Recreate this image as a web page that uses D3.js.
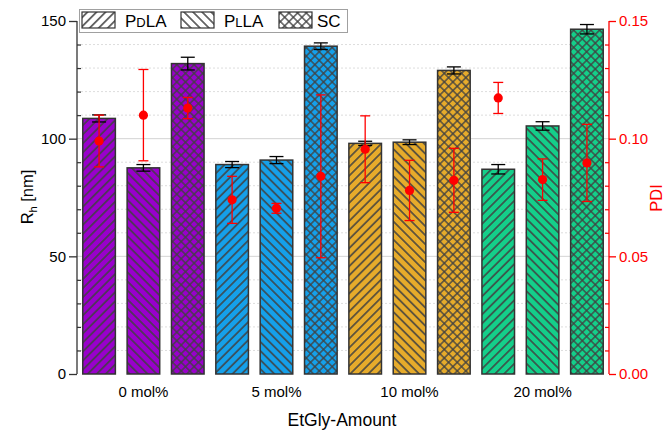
<!DOCTYPE html>
<html>
<head>
<meta charset="utf-8">
<script src="https://cdn.jsdelivr.net/npm/d3@7"></script>
<style>
  html, body { margin: 0; padding: 0; background: #fff; }
  svg { display: block; font-family: "Liberation Sans", Arial, sans-serif; }
</style>
</head>
<body>
<svg id="chart" width="667" height="432"></svg>
<script>
// Hydrodynamic radius (bars, left axis) and PDI (red points, right axis)
const groups = ["0 mol%", "5 mol%", "10 mol%", "20 mol%"];
const types = ["PDLA", "PLLA", "SC"];
const groupColors = ["#9900cc", "#15a0ea", "#e6ab2b", "#14cf8a"];

// one entry per bar, ordered group by group: PDLA, PLLA, SC
const rh    = [108.6, 87.6, 131.9, 89.0, 90.9, 139.3, 98.0, 98.5, 129.0, 87.0, 105.4, 146.5];
const rhErr = [1.5, 1.4, 2.7, 1.3, 1.5, 1.4, 0.9, 1.0, 1.5, 2.0, 1.8, 2.0];
const pdi    = [0.099, 0.110, 0.113, 0.074, 0.0704, 0.084, 0.0955, 0.078, 0.0823, 0.1173, 0.0826, 0.0897];
const pdiErr = [0.011, 0.0194, 0.0045, 0.010, 0.0021, 0.0346, 0.0142, 0.0128, 0.0136, 0.0066, 0.0088, 0.0164];

const leftTicks = [0, 50, 100, 150];
const rightTicks = [0, 0.05, 0.10, 0.15];

const svg = d3.select("#chart");
const m = { left: 77, right: 609, top: 21, bottom: 374 };

const bars = rh.map((v, i) => ({
  i, rh: v, rhErr: rhErr[i], pdi: pdi[i], pdiErr: pdiErr[i],
  group: Math.floor(i / types.length), type: types[i % types.length]
}));

const x = d3.scaleBand().domain(d3.range(bars.length)).range([m.left, m.right]).paddingInner(0.265).paddingOuter(0.13);
const y = d3.scaleLinear().domain([0, 150]).range([m.bottom, m.top]);
const y2 = d3.scaleLinear().domain([0, 0.15]).range([m.bottom, m.top]);

// hatch patterns
const defs = svg.append("defs");
function hatch(id, angle, spacing, cross, sw) {
  const p = defs.append("pattern").attr("id", id)
    .attr("patternUnits", "userSpaceOnUse")
    .attr("width", spacing).attr("height", spacing)
    .attr("patternTransform", `rotate(${angle})`);
  const line = (x1, y1, x2, y2) => p.append("line")
    .attr("x1", x1).attr("y1", y1).attr("x2", x2).attr("y2", y2)
    .attr("stroke", "#404040").attr("stroke-width", sw);
  line(0, -1, 0, spacing + 1);
  line(spacing, -1, spacing, spacing + 1);
  if (cross) {
    line(-1, 0, spacing + 1, 0);
    line(-1, spacing, spacing + 1, spacing);
  }
}
hatch("pat-PDLA", 45, 6.4, false, 1.5);
hatch("pat-PLLA", -45, 6.4, false, 1.5);
hatch("pat-SC", 45, 6.1, true, 1.3);

// grid
const grid = svg.append("g");
d3.range(10, 150, 10).forEach(v => {
  const major = v % 50 === 0;
  grid.append("line")
    .attr("x1", m.left).attr("x2", m.right)
    .attr("y1", y(v)).attr("y2", y(v))
    .attr("stroke", major ? "#d4d4d4" : "#dddddd")
    .attr("stroke-width", 1)
    .attr("stroke-dasharray", major ? null : "2,2");
});

// bars
const bg = svg.append("g");
bars.forEach(d => {
  const bx = x(d.i), bw = x.bandwidth(), by = y(d.rh), bh = y(0) - y(d.rh);
  bg.append("rect").attr("x", bx).attr("y", by).attr("width", bw).attr("height", bh)
    .attr("fill", groupColors[d.group]);
  bg.append("rect").attr("x", bx).attr("y", by).attr("width", bw).attr("height", bh)
    .attr("fill", `url(#pat-${d.type})`)
    .attr("stroke", "#333").attr("stroke-width", 1.5);
});

// Rh error bars
const eb = svg.append("g").attr("stroke", "#000").attr("stroke-width", 1.3);
bars.forEach(d => {
  const cx = x(d.i) + x.bandwidth() / 2;
  const y1 = y(d.rh + d.rhErr), y0 = y(d.rh - d.rhErr);
  eb.append("line").attr("x1", cx).attr("x2", cx).attr("y1", y1).attr("y2", y0);
  eb.append("line").attr("x1", cx - 7).attr("x2", cx + 7).attr("y1", y1).attr("y2", y1);
  eb.append("line").attr("x1", cx - 7).attr("x2", cx + 7).attr("y1", y0).attr("y2", y0);
});

// PDI points with error bars
const pg = svg.append("g");
bars.forEach(d => {
  const cx = x(d.i) + x.bandwidth() / 2;
  const y1 = y2(d.pdi + d.pdiErr), y0 = y2(d.pdi - d.pdiErr);
  const g = pg.append("g").attr("stroke", "#ff0000").attr("stroke-width", 1.3);
  g.append("line").attr("x1", cx).attr("x2", cx).attr("y1", y1).attr("y2", y0);
  g.append("line").attr("x1", cx - 5).attr("x2", cx + 5).attr("y1", y1).attr("y2", y1);
  g.append("line").attr("x1", cx - 5).attr("x2", cx + 5).attr("y1", y0).attr("y2", y0);
  pg.append("circle").attr("cx", cx).attr("cy", y2(d.pdi)).attr("r", 4.6).attr("fill", "#ff0000");
});

// left axis
const la = svg.append("g").attr("transform", `translate(${m.left},0)`)
  .call(d3.axisLeft(y).tickValues(leftTicks).tickSize(8).tickPadding(3).tickFormat(d3.format("d")));
la.select(".domain").attr("stroke", "#333").attr("stroke-width", 1.3).attr("d", `M0,${m.bottom}V${m.top}`);
la.selectAll(".tick line").attr("stroke", "#333").attr("stroke-width", 1.3);
la.selectAll(".tick text").attr("font-size", 15).attr("fill", "#000").attr("font-family", "Liberation Sans, Arial, sans-serif");
svg.append("g").attr("transform", `translate(${m.left},0)`)
  .call(d3.axisRight(y).tickValues(d3.range(10, 150, 10).filter(v => v % 50 !== 0)).tickSize(4).tickFormat(""))
  .call(g => { g.select(".domain").remove(); g.selectAll("line").attr("stroke", "#333").attr("stroke-width", 1.2); });

// right axis
const ra = svg.append("g").attr("transform", `translate(${m.right},0)`)
  .call(d3.axisRight(y2).tickValues(rightTicks).tickSize(7).tickPadding(3).tickFormat(d3.format(".2f")));
ra.select(".domain").attr("stroke", "#ff0000").attr("stroke-width", 1.3).attr("d", `M0,${m.bottom}V${m.top}`);
ra.selectAll(".tick line").attr("stroke", "#ff0000").attr("stroke-width", 1.3);
ra.selectAll(".tick text").attr("font-size", 15).attr("fill", "#ff0000").attr("font-family", "Liberation Sans, Arial, sans-serif");
svg.append("g").attr("transform", `translate(${m.right},0)`)
  .call(d3.axisLeft(y2).tickValues(d3.range(1, 15).map(v => v / 100).filter((v, k) => (k + 1) % 5 !== 0)).tickSize(4).tickFormat(""))
  .call(g => { g.select(".domain").remove(); g.selectAll("line").attr("stroke", "#ff0000").attr("stroke-width", 1.2); });

// group labels
groups.forEach((gname, gi) => {
  const mid = x(gi * 3 + 1) + x.bandwidth() / 2;
  svg.append("text").attr("x", mid).attr("y", 397).attr("text-anchor", "middle")
    .attr("font-size", 15).text(gname);
});

// axis titles
svg.append("text").attr("x", 342).attr("y", 426).attr("text-anchor", "middle")
  .attr("font-size", 17.5).text("EtGly-Amount");

const yt = svg.append("text").attr("transform", "translate(33,197) rotate(-90)")
  .attr("text-anchor", "middle").attr("font-size", 16.5);
yt.append("tspan").text("R");
yt.append("tspan").attr("font-size", 11).attr("dy", 4).text("h");
yt.append("tspan").attr("dy", -4).text(" [nm]");

svg.append("text").attr("transform", "translate(662,198) rotate(-90)")
  .attr("text-anchor", "middle").attr("font-size", 16.5).attr("fill", "#ff0000").text("PDI");

// legend
const lg = svg.append("g");
lg.append("rect").attr("x", 79.5).attr("y", 9.5).attr("width", 268).attr("height", 23)
  .attr("fill", "#fff").attr("stroke", "#a0a0a0").attr("stroke-width", 1);
const legendItems = [
  { type: "PDLA", sx: 82, tx: 125, parts: ["P", "D", "LA"] },
  { type: "PLLA", sx: 181, tx: 224, parts: ["P", "L", "LA"] },
  { type: "SC", sx: 279, tx: 317, parts: ["SC"] }
];
legendItems.forEach(it => {
  lg.append("rect").attr("x", it.sx).attr("y", 12).attr("width", 33).attr("height", 16)
    .attr("fill", "#fff");
  lg.append("rect").attr("x", it.sx).attr("y", 12).attr("width", 33).attr("height", 16)
    .attr("fill", `url(#pat-${it.type})`).attr("stroke", "#333").attr("stroke-width", 1.2);
  const t = lg.append("text").attr("x", it.tx).attr("y", 27).attr("font-size", 17);
  it.parts.forEach((p, k) => {
    t.append("tspan").attr("font-size", k === 1 ? 13 : 17).text(p);
  });
});
</script>
</body>
</html>
